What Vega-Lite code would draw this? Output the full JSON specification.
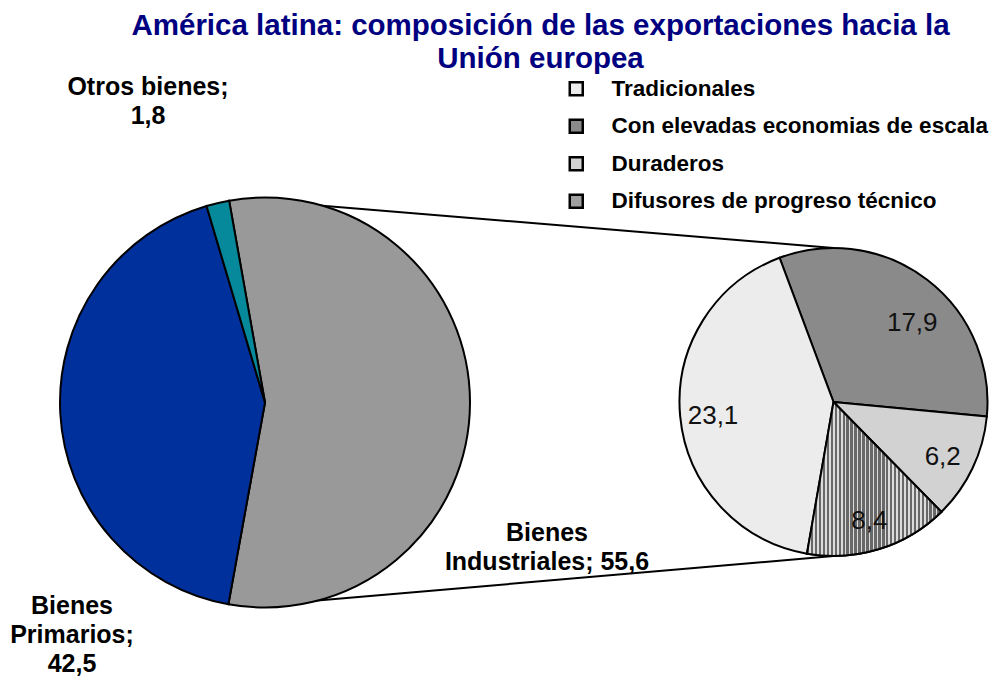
{
  "$schema": "https://vega.github.io/schema/vega-lite/v6.json",
  "width": 997,
  "height": 601,
  "autosize": {"type": "none"},
  "padding": {"top": 80, "left": 0, "right": 0, "bottom": 0},
  "background": "white",
  "config": {
    "view": {"stroke": null},
    "font": "Liberation Sans",
    "locale": {"number": {"decimal": ",", "thousands": ".", "grouping": [3], "currency": ["", ""]}}
  },
  "title": {
    "text": ["América latina: composición de las exportaciones hacia la", "Unión europea"],
    "color": "#000080",
    "font": "Liberation Sans",
    "fontSize": 29.5,
    "fontWeight": "bold",
    "anchor": "middle",
    "dx": 42,
    "dy": 3,
    "offset": 4,
    "lineHeight": 33
  },
  "datasets": {
    "total": [
      {"pie": "Total", "grupo": "Bienes Industriales", "v": 55.6, "o": 1, "lineas": ["Bienes", "Industriales; 55,6"]},
      {"pie": "Total", "grupo": "Bienes Primarios", "v": 42.5, "o": 2, "lineas": ["Bienes", "Primarios;", "42,5"]},
      {"pie": "Total", "grupo": "Otros bienes", "v": 1.8, "o": 3, "lineas": ["Otros bienes;", "1,8"]}
    ],
    "industriales": [
      {"pie": "Industriales", "cat": "Con elevadas economias de escala", "v": 17.9, "o": 1},
      {"pie": "Industriales", "cat": "Duraderos", "v": 6.2, "o": 2},
      {"pie": "Industriales", "cat": "Difusores de progreso técnico", "v": 8.4, "o": 3},
      {"pie": "Industriales", "cat": "Tradicionales", "v": 23.1, "o": 4}
    ],
    "conector": [{"desde": "Total", "hasta": "Industriales"}]
  },
  "layer": [
    {
      "data": {"name": "conector"},
      "mark": {"type": "rule", "stroke": "#000000", "strokeWidth": 2},
      "encoding": {
        "x": {"field": "desde", "type": "nominal", "scale": {"type": "point", "domain": ["Total", "Industriales"], "range": [265, 833.5], "padding": 0}, "axis": null},
        "x2": {"field": "hasta"},
        "y": {"field": "desde", "type": "nominal", "scale": {"type": "point", "domain": ["Total", "Industriales"], "range": [121, 168], "padding": 0}, "axis": null},
        "y2": {"field": "hasta"}
      }
    },
    {
      "data": {"name": "conector"},
      "mark": {"type": "rule", "stroke": "#000000", "strokeWidth": 2},
      "encoding": {
        "x": {"field": "desde", "type": "nominal", "scale": {"type": "point", "domain": ["Total", "Industriales"], "range": [265, 833.5], "padding": 0}, "axis": null},
        "x2": {"field": "hasta"},
        "y": {"field": "desde", "type": "nominal", "scale": {"type": "point", "domain": ["Total", "Industriales"], "range": [525, 476], "padding": 0}, "axis": null},
        "y2": {"field": "hasta"}
      }
    },
    {
      "data": {"name": "total"},
      "encoding": {
        "x": {"field": "pie", "type": "nominal", "scale": {"type": "point", "domain": ["Total", "Industriales"], "range": [265, 833.5], "padding": 0}, "axis": null},
        "y": {"field": "pie", "type": "nominal", "scale": {"type": "point", "domain": ["Total", "Industriales"], "range": [322.5, 322.5], "padding": 0}, "axis": null}
      },
      "layer": [
        {
          "mark": {"type": "arc", "radius": 205, "stroke": "#000000", "strokeWidth": 2},
          "encoding": {
            "theta": {"field": "v", "type": "quantitative", "stack": true, "scale": {"range": [-0.17593, 6.10726]}},
            "order": {"field": "o", "type": "quantitative"},
            "fill": {"field": "grupo", "type": "nominal", "scale": {"domain": ["Bienes Industriales", "Bienes Primarios", "Otros bienes"], "range": ["#999999", "#00309C", "#06899A"]}, "legend": null}
          }
        },
        {
          "transform": [{"filter": "datum.grupo === 'Otros bienes'"}],
          "mark": {"type": "text", "dx": -117, "dy": -315.5, "align": "center", "baseline": "middle", "fontSize": 25, "fontWeight": "bold", "lineHeight": 29, "fill": "#000000"},
          "encoding": {"text": {"field": "lineas", "type": "nominal"}}
        },
        {
          "transform": [{"filter": "datum.grupo === 'Bienes Primarios'"}],
          "mark": {"type": "text", "dx": -193, "dy": 203.5, "align": "center", "baseline": "middle", "fontSize": 25, "fontWeight": "bold", "lineHeight": 29, "fill": "#000000"},
          "encoding": {"text": {"field": "lineas", "type": "nominal"}}
        },
        {
          "transform": [{"filter": "datum.grupo === 'Bienes Industriales'"}],
          "mark": {"type": "text", "dx": 282, "dy": 130.5, "align": "center", "baseline": "middle", "fontSize": 25, "fontWeight": "bold", "lineHeight": 29, "fill": "#000000"},
          "encoding": {"text": {"field": "lineas", "type": "nominal"}}
        }
      ]
    },
    {
      "data": {"name": "industriales"},
      "encoding": {
        "x": {"field": "pie", "type": "nominal", "scale": {"type": "point", "domain": ["Total", "Industriales"], "range": [265, 833.5], "padding": 0}, "axis": null},
        "y": {"field": "pie", "type": "nominal", "scale": {"type": "point", "domain": ["Total", "Industriales"], "range": [322, 322], "padding": 0}, "axis": null},
        "theta": {"field": "v", "type": "quantitative", "stack": true, "scale": {"range": [-0.35779, 5.9254]}},
        "order": {"field": "o", "type": "quantitative"}
      },
      "layer": [
        {
          "mark": {"type": "arc", "radius": 154, "stroke": "#000000", "strokeWidth": 2},
          "encoding": {
            "fill": {
              "field": "cat",
              "type": "nominal",
              "scale": {
                "domain": ["Tradicionales", "Con elevadas economias de escala", "Duraderos", "Difusores de progreso técnico"],
                "range": ["#ececec", "#8a8a8a", "#d2d2d2", "#a0a0a0"]
              },
              "legend": {
                "orient": "none",
                "legendX": 565,
                "legendY": -2.5,
                "title": null,
                "padding": 0,
                "symbolType": "square",
                "symbolSize": 169,
                "symbolStrokeColor": "#000000",
                "symbolStrokeWidth": 2.5,
                "labelFont": "Liberation Sans",
                "labelFontWeight": "bold",
                "labelFontSize": 22.5,
                "labelColor": "#000000",
                "labelOffset": 24,
                "labelLimit": 600,
                "rowPadding": 13.5
              }
            }
          }
        },
        {
          "mark": {
            "type": "arc",
            "radius": 154,
            "stroke": "#000000",
            "strokeWidth": 2,
            "fill": {"gradient": "linear", "x1": 0, "y1": 0, "x2": 1, "y2": 0, "stops": [
              {"offset": 0, "color": "#686868"}, {"offset": 0.01824, "color": "#686868"}, {"offset": 0.01824, "color": "#dcdcdc"}, {"offset": 0.02941, "color": "#dcdcdc"},
              {"offset": 0.02941, "color": "#686868"}, {"offset": 0.04765, "color": "#686868"}, {"offset": 0.04765, "color": "#dcdcdc"}, {"offset": 0.05882, "color": "#dcdcdc"},
              {"offset": 0.05882, "color": "#686868"}, {"offset": 0.07706, "color": "#686868"}, {"offset": 0.07706, "color": "#dcdcdc"}, {"offset": 0.08824, "color": "#dcdcdc"},
              {"offset": 0.08824, "color": "#686868"}, {"offset": 0.10648, "color": "#686868"}, {"offset": 0.10648, "color": "#dcdcdc"}, {"offset": 0.11765, "color": "#dcdcdc"},
              {"offset": 0.11765, "color": "#686868"}, {"offset": 0.13589, "color": "#686868"}, {"offset": 0.13589, "color": "#dcdcdc"}, {"offset": 0.14706, "color": "#dcdcdc"},
              {"offset": 0.14706, "color": "#686868"}, {"offset": 0.1653, "color": "#686868"}, {"offset": 0.1653, "color": "#dcdcdc"}, {"offset": 0.17647, "color": "#dcdcdc"},
              {"offset": 0.17647, "color": "#686868"}, {"offset": 0.19471, "color": "#686868"}, {"offset": 0.19471, "color": "#dcdcdc"}, {"offset": 0.20588, "color": "#dcdcdc"},
              {"offset": 0.20588, "color": "#686868"}, {"offset": 0.22412, "color": "#686868"}, {"offset": 0.22412, "color": "#dcdcdc"}, {"offset": 0.23529, "color": "#dcdcdc"},
              {"offset": 0.23529, "color": "#686868"}, {"offset": 0.25353, "color": "#686868"}, {"offset": 0.25353, "color": "#dcdcdc"}, {"offset": 0.26471, "color": "#dcdcdc"},
              {"offset": 0.26471, "color": "#686868"}, {"offset": 0.28295, "color": "#686868"}, {"offset": 0.28295, "color": "#dcdcdc"}, {"offset": 0.29412, "color": "#dcdcdc"},
              {"offset": 0.29412, "color": "#686868"}, {"offset": 0.31236, "color": "#686868"}, {"offset": 0.31236, "color": "#dcdcdc"}, {"offset": 0.32353, "color": "#dcdcdc"},
              {"offset": 0.32353, "color": "#686868"}, {"offset": 0.34177, "color": "#686868"}, {"offset": 0.34177, "color": "#dcdcdc"}, {"offset": 0.35294, "color": "#dcdcdc"},
              {"offset": 0.35294, "color": "#686868"}, {"offset": 0.37118, "color": "#686868"}, {"offset": 0.37118, "color": "#dcdcdc"}, {"offset": 0.38235, "color": "#dcdcdc"},
              {"offset": 0.38235, "color": "#686868"}, {"offset": 0.40059, "color": "#686868"}, {"offset": 0.40059, "color": "#dcdcdc"}, {"offset": 0.41176, "color": "#dcdcdc"},
              {"offset": 0.41176, "color": "#686868"}, {"offset": 0.43, "color": "#686868"}, {"offset": 0.43, "color": "#dcdcdc"}, {"offset": 0.44118, "color": "#dcdcdc"},
              {"offset": 0.44118, "color": "#686868"}, {"offset": 0.45942, "color": "#686868"}, {"offset": 0.45942, "color": "#dcdcdc"}, {"offset": 0.47059, "color": "#dcdcdc"},
              {"offset": 0.47059, "color": "#686868"}, {"offset": 0.48883, "color": "#686868"}, {"offset": 0.48883, "color": "#dcdcdc"}, {"offset": 0.5, "color": "#dcdcdc"},
              {"offset": 0.5, "color": "#686868"}, {"offset": 0.51824, "color": "#686868"}, {"offset": 0.51824, "color": "#dcdcdc"}, {"offset": 0.52941, "color": "#dcdcdc"},
              {"offset": 0.52941, "color": "#686868"}, {"offset": 0.54765, "color": "#686868"}, {"offset": 0.54765, "color": "#dcdcdc"}, {"offset": 0.55882, "color": "#dcdcdc"},
              {"offset": 0.55882, "color": "#686868"}, {"offset": 0.57706, "color": "#686868"}, {"offset": 0.57706, "color": "#dcdcdc"}, {"offset": 0.58824, "color": "#dcdcdc"},
              {"offset": 0.58824, "color": "#686868"}, {"offset": 0.60648, "color": "#686868"}, {"offset": 0.60648, "color": "#dcdcdc"}, {"offset": 0.61765, "color": "#dcdcdc"},
              {"offset": 0.61765, "color": "#686868"}, {"offset": 0.63589, "color": "#686868"}, {"offset": 0.63589, "color": "#dcdcdc"}, {"offset": 0.64706, "color": "#dcdcdc"},
              {"offset": 0.64706, "color": "#686868"}, {"offset": 0.6653, "color": "#686868"}, {"offset": 0.6653, "color": "#dcdcdc"}, {"offset": 0.67647, "color": "#dcdcdc"},
              {"offset": 0.67647, "color": "#686868"}, {"offset": 0.69471, "color": "#686868"}, {"offset": 0.69471, "color": "#dcdcdc"}, {"offset": 0.70588, "color": "#dcdcdc"},
              {"offset": 0.70588, "color": "#686868"}, {"offset": 0.72412, "color": "#686868"}, {"offset": 0.72412, "color": "#dcdcdc"}, {"offset": 0.73529, "color": "#dcdcdc"},
              {"offset": 0.73529, "color": "#686868"}, {"offset": 0.75353, "color": "#686868"}, {"offset": 0.75353, "color": "#dcdcdc"}, {"offset": 0.76471, "color": "#dcdcdc"},
              {"offset": 0.76471, "color": "#686868"}, {"offset": 0.78295, "color": "#686868"}, {"offset": 0.78295, "color": "#dcdcdc"}, {"offset": 0.79412, "color": "#dcdcdc"},
              {"offset": 0.79412, "color": "#686868"}, {"offset": 0.81236, "color": "#686868"}, {"offset": 0.81236, "color": "#dcdcdc"}, {"offset": 0.82353, "color": "#dcdcdc"},
              {"offset": 0.82353, "color": "#686868"}, {"offset": 0.84177, "color": "#686868"}, {"offset": 0.84177, "color": "#dcdcdc"}, {"offset": 0.85294, "color": "#dcdcdc"},
              {"offset": 0.85294, "color": "#686868"}, {"offset": 0.87118, "color": "#686868"}, {"offset": 0.87118, "color": "#dcdcdc"}, {"offset": 0.88235, "color": "#dcdcdc"},
              {"offset": 0.88235, "color": "#686868"}, {"offset": 0.90059, "color": "#686868"}, {"offset": 0.90059, "color": "#dcdcdc"}, {"offset": 0.91176, "color": "#dcdcdc"},
              {"offset": 0.91176, "color": "#686868"}, {"offset": 0.93, "color": "#686868"}, {"offset": 0.93, "color": "#dcdcdc"}, {"offset": 0.94118, "color": "#dcdcdc"},
              {"offset": 0.94118, "color": "#686868"}, {"offset": 0.95942, "color": "#686868"}, {"offset": 0.95942, "color": "#dcdcdc"}, {"offset": 0.97059, "color": "#dcdcdc"},
              {"offset": 0.97059, "color": "#686868"}, {"offset": 0.98883, "color": "#686868"}, {"offset": 0.98883, "color": "#dcdcdc"}, {"offset": 1, "color": "#dcdcdc"}
            ]}
          },
          "encoding": {
            "fillOpacity": {"condition": {"test": "datum.o === 3", "value": 1}, "value": 0},
            "strokeOpacity": {"condition": {"test": "datum.o === 3", "value": 1}, "value": 0}
          }
        },
        {
          "mark": {"type": "text", "radius": 121, "dy": 3, "fontSize": 26, "fill": "#111111", "align": "center", "baseline": "middle"},
          "encoding": {"text": {"condition": {"test": "datum.o === 1", "value": ""}, "field": "v", "type": "quantitative", "format": ".1f"}}
        },
        {
          "mark": {"type": "text", "radius": 118, "dx": 7, "dy": 15, "fontSize": 26, "fill": "#111111", "align": "center", "baseline": "middle"},
          "encoding": {"text": {"condition": {"test": "datum.o !== 1", "value": ""}, "field": "v", "type": "quantitative", "format": ".1f"}}
        }
      ]
    }
  ],
  "resolve": {"scale": {"theta": "independent", "y": "independent", "fill": "independent"}}
}
